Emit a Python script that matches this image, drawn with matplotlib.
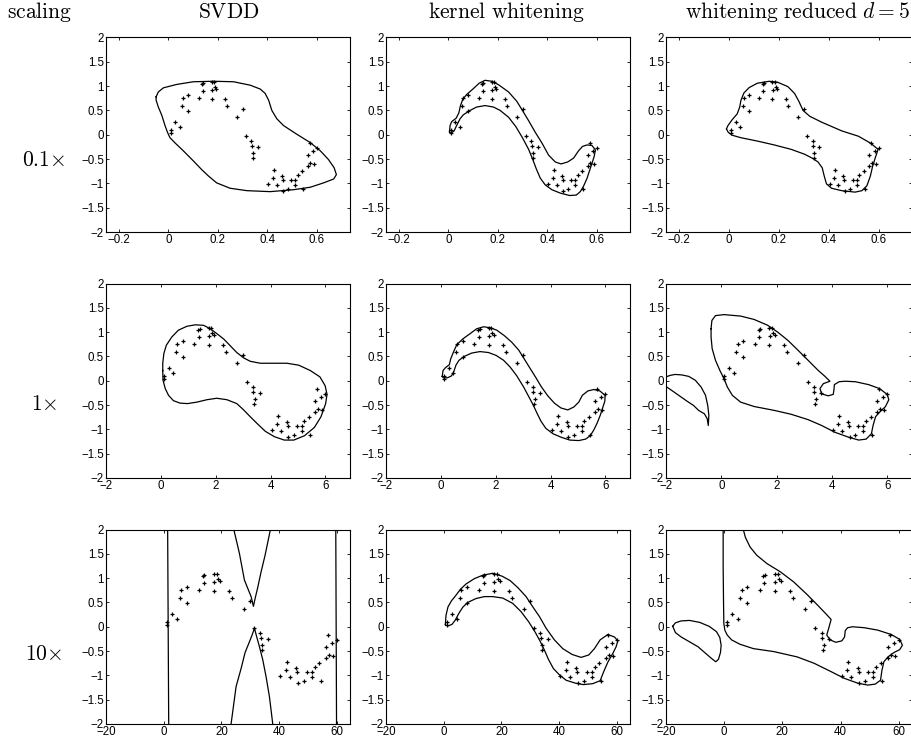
import numpy as np
import matplotlib
matplotlib.use("Agg")
import matplotlib.pyplot as plt

plt.rcParams['mathtext.fontset'] = 'cm'
plt.rcParams['font.family'] = ['Liberation Sans', 'DejaVu Sans']

# ---------------- data (x in unscaled units, multiplied by the row scaling) -------------
scalings = [0.1, 1, 10]
row_labels = [r'$0.1{\times}$', r'$1{\times}$', r'$10{\times}$']
col_titles = [r'$\mathrm{SVDD}$', r'$\mathrm{kernel\ whitening}$',
              r'$\mathrm{whitening\ reduced}\ d=5$']
corner_title = r'$\mathrm{scaling}$'

xlims = [(-0.2526, 0.732), (-2.0, 6.88), (-20.0, 64.4)]
xticks = [[-0.2, 0, 0.2, 0.4, 0.6], [-2, 0, 2, 4, 6], [-20, 0, 20, 40, 60]]
xticklabels = [['-0.2', '0', '0.2', '0.4', '0.6'], ['-2', '0', '2', '4', '6'],
               ['-20', '0', '20', '40', '60']]
yticks = [-2, -1.5, -1, -0.5, 0, 0.5, 1, 1.5, 2]
yticklabels = ['-2', '-1.5', '-1', '-0.5', '0', '0.5', '1', '1.5', '2']

pts_x = [0.10, 0.10, 0.28, 0.46, 0.55, 0.60, 0.80, 0.80, 1.22, 1.35, 1.41, 1.38,
         1.74, 1.76, 1.74, 1.84, 1.87, 1.94, 2.27, 2.38, 2.78, 3.00, 3.13, 3.35,
         3.37, 3.60, 3.42, 3.40, 4.04, 4.27, 4.23, 4.37, 4.59, 4.63, 4.65, 4.96,
         4.85, 5.13, 5.13, 5.23, 5.40, 5.44, 5.63, 5.63, 5.71, 5.74, 5.84, 5.88, 6.00]
pts_y = [0.09, 0.03, 0.26, 0.15, 0.60, 0.76, 0.82, 0.49, 0.76, 1.05, 1.07, 0.89,
         0.74, 0.93, 1.09, 1.08, 0.99, 0.94, 0.74, 0.60, 0.37, 0.52, -0.03, -0.12,
         -0.23, -0.25, -0.37, -0.47, -1.02, -0.72, -0.88, -1.03, -0.84, -0.94, -1.16, -0.94,
         -1.11, -0.94, -1.04, -0.82, -0.75, -1.11, -0.65, -0.42, -0.16, -0.59, -0.34, -0.60, -0.28]

# contour curves, (x, y) pairs in unscaled x units
svdd_01 = [(-0.50, 0.78), (-0.41, 0.88), (-0.205, 0.965), (0.335, 1.035), (1.01, 1.09),
           (1.82, 1.10), (2.63, 1.09), (3.30, 1.02), (3.71, 0.94), (3.91, 0.85), (4.05, 0.71),
           (4.18, 0.50), (4.38, 0.33), (4.65, 0.19), (5.19, 0.01), (5.73, -0.16), (6.14, -0.33),
           (6.47, -0.51), (6.70, -0.68), (6.79, -0.82), (6.68, -0.91), (6.27, -0.99),
           (5.73, -1.08), (5.06, -1.13), (4.11, -1.17), (3.17, -1.15), (2.49, -1.10),
           (1.95, -0.99), (1.62, -0.85), (1.35, -0.72), (1.01, -0.54), (0.60, -0.33),
           (0.27, -0.17), (0.06, -0.06), (-0.04, 0.05), (-0.14, 0.19), (-0.27, 0.40),
           (-0.41, 0.57), (-0.50, 0.71)]
kw_01 = [(0.04, 0.06), (0.065, 0.19), (0.13, 0.27), (0.31, 0.34), (0.42, 0.45), (0.48, 0.59),
         (0.58, 0.73), (0.74, 0.83), (1.01, 0.95), (1.24, 1.06), (1.48, 1.12), (1.75, 1.10),
         (2.02, 1.03), (2.43, 0.88), (2.76, 0.69), (2.99, 0.50), (3.24, 0.29), (3.51, 0.05),
         (3.78, -0.17), (4.05, -0.42), (4.32, -0.56), (4.55, -0.60), (4.82, -0.56),
         (5.06, -0.48), (5.26, -0.33), (5.42, -0.24), (5.60, -0.21), (5.80, -0.22),
         (5.94, -0.31), (5.89, -0.45), (5.80, -0.59), (5.71, -0.73), (5.60, -0.90),
         (5.46, -1.06), (5.33, -1.17), (5.17, -1.24), (4.90, -1.25), (4.52, -1.20),
         (4.18, -1.13), (3.91, -1.03), (3.71, -0.89), (3.55, -0.70), (3.41, -0.51),
         (3.24, -0.30), (2.99, -0.06), (2.72, 0.17), (2.43, 0.36), (2.09, 0.50), (1.82, 0.57),
         (1.48, 0.60), (1.14, 0.57), (0.87, 0.50), (0.60, 0.41), (0.47, 0.33), (0.33, 0.19),
         (0.23, 0.08), (0.09, 0.03)]
wr_01 = [(-0.10, 0.12), (-0.04, 0.19), (0.13, 0.31), (0.33, 0.43), (0.43, 0.57), (0.48, 0.71),
         (0.60, 0.86), (0.81, 0.97), (1.14, 1.06), (1.62, 1.10), (1.95, 1.08), (2.36, 0.99),
         (2.63, 0.85), (2.80, 0.69), (2.97, 0.50), (3.24, 0.38), (3.71, 0.26), (4.52, 0.08),
         (5.19, -0.03), (5.67, -0.17), (5.98, -0.30), (5.87, -0.47), (5.76, -0.65),
         (5.67, -0.85), (5.53, -1.05), (5.33, -1.15), (5.06, -1.18), (4.52, -1.15),
         (4.11, -1.10), (3.91, -1.01), (3.82, -0.85), (3.74, -0.68), (3.57, -0.56),
         (3.37, -0.49), (3.03, -0.40), (2.49, -0.30), (1.82, -0.21), (1.14, -0.13),
         (0.47, -0.06), (0.13, -0.01), (-0.03, 0.05)]
svdd_1 = [(0.07, 0.21), (0.07, 0.36), (0.11, 0.56), (0.20, 0.73), (0.40, 0.90), (0.64, 1.04),
          (0.95, 1.12), (1.25, 1.15), (1.56, 1.14), (1.80, 1.07), (2.04, 0.97), (2.29, 0.86),
          (2.53, 0.72), (2.77, 0.58), (3.02, 0.47), (3.26, 0.40), (3.63, 0.36), (4.11, 0.36),
          (4.60, 0.36), (5.03, 0.32), (5.45, 0.21), (5.80, 0.08), (5.99, -0.10), (6.06, -0.28),
          (6.01, -0.47), (5.84, -0.74), (5.60, -0.96), (5.24, -1.13), (4.85, -1.22),
          (4.50, -1.22), (4.14, -1.15), (3.81, -1.04), (3.53, -0.89), (3.26, -0.74),
          (3.02, -0.60), (2.77, -0.47), (2.41, -0.39), (2.04, -0.36), (1.68, -0.39),
          (1.31, -0.44), (0.97, -0.47), (0.70, -0.46), (0.46, -0.41), (0.28, -0.30),
          (0.16, -0.16), (0.08, 0.01)]
kw_1 = [(0.05, 0.09), (0.08, 0.21), (0.17, 0.27), (0.31, 0.33), (0.36, 0.45), (0.46, 0.59),
        (0.58, 0.74), (0.80, 0.86), (1.07, 0.97), (1.31, 1.07), (1.56, 1.11), (1.80, 1.09),
        (2.04, 1.04), (2.31, 0.93), (2.59, 0.79), (2.84, 0.63), (3.04, 0.45), (3.26, 0.25),
        (3.47, 0.06), (3.66, -0.12), (3.90, -0.31), (4.14, -0.46), (4.38, -0.56),
        (4.63, -0.60), (4.85, -0.54), (5.03, -0.44), (5.16, -0.30), (5.36, -0.21),
        (5.58, -0.18), (5.80, -0.21), (5.99, -0.30), (5.98, -0.42), (5.90, -0.56),
        (5.82, -0.70), (5.70, -0.87), (5.58, -1.01), (5.45, -1.13), (5.28, -1.20),
        (5.03, -1.23), (4.70, -1.22), (4.38, -1.16), (4.09, -1.09), (3.83, -0.98),
        (3.65, -0.83), (3.51, -0.67), (3.36, -0.49), (3.20, -0.32), (3.02, -0.13),
        (2.77, 0.10), (2.53, 0.28), (2.29, 0.42), (2.02, 0.52), (1.74, 0.58), (1.43, 0.60),
        (1.13, 0.57), (0.85, 0.50), (0.66, 0.42), (0.55, 0.32), (0.48, 0.20), (0.39, 0.10),
        (0.24, 0.06), (0.09, 0.06)]
wr_1_main = [(-0.37, 1.07), (-0.34, 1.24), (-0.21, 1.34), (0.10, 1.36), (0.70, 1.33),
             (1.19, 1.26), (1.68, 1.14), (2.04, 1.00), (2.41, 0.83), (2.77, 0.63), (3.14, 0.42),
             (3.51, 0.21), (3.75, 0.09), (3.93, -0.01), (3.69, -0.06), (3.57, -0.16),
             (3.63, -0.27), (3.87, -0.31), (4.05, -0.28), (4.08, -0.16), (4.09, -0.08),
             (4.26, -0.02), (4.48, -0.01), (4.85, -0.02), (5.33, -0.08), (5.72, -0.16),
             (6.00, -0.28), (6.06, -0.39), (5.94, -0.53), (5.72, -0.65), (5.58, -0.74),
             (5.49, -0.92), (5.43, -1.09), (5.24, -1.20), (4.97, -1.22), (4.60, -1.16),
             (4.11, -1.06), (3.63, -0.92), (3.14, -0.80), (2.53, -0.69), (1.92, -0.61),
             (1.19, -0.53), (0.70, -0.44), (0.40, -0.30), (0.22, -0.13), (0.10, 0.04),
             (-0.05, 0.21), (-0.21, 0.42), (-0.33, 0.66), (-0.37, 0.90)]
wr_1_side = [(-2.10, 0.06), (-1.85, 0.11), (-1.67, 0.13), (-1.43, 0.12), (-1.18, 0.09),
             (-0.94, 0.01), (-0.73, -0.13), (-0.57, -0.30), (-0.49, -0.51), (-0.45, -0.71),
             (-0.47, -0.92), (-0.51, -0.78), (-0.61, -0.68), (-0.82, -0.61), (-1.00, -0.51),
             (-1.24, -0.42), (-1.49, -0.32), (-1.79, -0.20), (-2.10, -0.08)]
svdd_10_left = [(0.135, 2.2), (0.175, -2.2)]
svdd_10_right = [(5.963, 2.2), (5.992, -2.2)]
svdd_10_upper = [(2.40, 2.2), (2.43, 2.0), (2.624, 1.51), (2.798, 0.96), (2.913, 0.79),
                 (3.029, 0.62), (3.110, 0.42), (3.168, 0.58), (3.260, 0.81), (3.376, 1.13),
                 (3.514, 1.47), (3.699, 2.0), (3.73, 2.2)]
svdd_10_lower = [(2.32, -2.2), (2.335, -2.0), (2.509, -1.23), (2.682, -0.86), (2.821, -0.53),
                 (2.971, -0.31), (3.064, -0.17), (3.145, -0.03), (3.225, -0.21), (3.318, -0.41),
                 (3.434, -0.68), (3.549, -1.03), (3.665, -1.44), (3.780, -2.0), (3.80, -2.2)]
kw_10 = [(0.058, 0.05), (0.081, 0.24), (0.150, 0.41), (0.266, 0.53), (0.428, 0.65),
         (0.578, 0.77), (0.775, 0.88), (1.064, 0.99), (1.353, 1.06), (1.699, 1.10),
         (2.023, 1.04), (2.301, 0.95), (2.578, 0.80), (2.855, 0.62), (3.087, 0.41),
         (3.318, 0.21), (3.549, -0.03), (3.838, -0.27), (4.127, -0.45), (4.451, -0.57),
         (4.763, -0.63), (5.029, -0.58), (5.225, -0.45), (5.422, -0.27), (5.688, -0.16),
         (5.919, -0.21), (6.035, -0.29), (5.977, -0.41), (5.861, -0.55), (5.688, -0.73),
         (5.549, -0.92), (5.422, -1.11), (5.168, -1.17), (4.844, -1.19), (4.566, -1.16),
         (4.243, -1.10), (4.012, -0.99), (3.803, -0.86), (3.630, -0.67), (3.491, -0.48),
         (3.353, -0.31), (3.179, -0.12), (2.948, 0.10), (2.682, 0.31), (2.393, 0.48),
         (2.046, 0.59), (1.699, 0.62), (1.410, 0.62), (1.121, 0.58), (0.832, 0.50),
         (0.659, 0.40), (0.520, 0.27), (0.405, 0.14), (0.289, 0.05), (0.173, 0.02),
         (0.058, 0.03)]
wr_10_main = [(-0.035, 2.2), (-0.035, 1.23), (-0.023, 0.55), (-0.012, 0.07), (0.023, -0.07),
              (0.104, -0.17), (0.254, -0.27), (0.543, -0.36), (1.006, -0.45), (1.699, -0.51),
              (2.509, -0.62), (3.087, -0.75), (3.665, -0.92), (4.127, -1.06), (4.590, -1.16),
              (4.936, -1.20), (5.191, -1.18), (5.376, -1.10), (5.422, -0.90), (5.491, -0.72),
              (5.630, -0.62), (5.838, -0.53), (6.035, -0.47), (6.127, -0.38), (6.035, -0.26),
              (5.746, -0.16), (5.283, -0.07), (4.821, -0.02), (4.416, 0.00), (4.243, -0.02),
              (4.162, -0.08), (4.139, -0.21), (4.046, -0.29), (3.838, -0.32), (3.642, -0.27),
              (3.526, -0.17), (3.595, -0.03), (3.676, 0.15), (3.491, 0.27), (3.202, 0.45),
              (2.855, 0.66), (2.393, 0.92), (1.931, 1.13), (1.468, 1.30), (1.121, 1.47),
              (0.890, 1.64), (0.728, 1.84), (0.57, 2.2)]
wr_10_side = [(-1.769, 0.01), (-1.676, 0.08), (-1.480, 0.12), (-1.191, 0.13), (-0.844, 0.09),
              (-0.520, 0.01), (-0.266, -0.10), (-0.150, -0.22), (-0.104, -0.38), (-0.127, -0.53),
              (-0.197, -0.67), (-0.289, -0.72), (-0.439, -0.65), (-0.671, -0.53),
              (-0.902, -0.41), (-1.191, -0.31), (-1.480, -0.21), (-1.676, -0.12)]

# (curve, closed) per panel [row][col]
curves = [
    [[(svdd_01, True)], [(kw_01, True)], [(wr_01, True)]],
    [[(svdd_1, True)], [(kw_1, True)], [(wr_1_main, True), (wr_1_side, False)]],
    [[(svdd_10_left, False), (svdd_10_right, False), (svdd_10_upper, False),
      (svdd_10_lower, False)],
     [(kw_10, True)],
     [(wr_10_main, False), (wr_10_side, True)]],
]

# ---------------- layout ----------------
W, H = 911, 744
fig = plt.figure(figsize=(W / 100, H / 100), dpi=100)
col_left = [106, 386, 666]
row_top = [37.5, 283.5, 529.5]
aw, ah = 243.5, 194.5

for r in range(3):
    s = scalings[r]
    for c in range(3):
        w = aw if c < 2 else 245.5
        ax = fig.add_axes([col_left[c] / W, 1 - (row_top[r] + ah) / H, w / W, ah / H])
        for crv, closed in curves[r][c]:
            xs = [p[0] * s for p in crv]
            ys = [p[1] for p in crv]
            if closed:
                xs.append(xs[0]); ys.append(ys[0])
            ax.plot(xs, ys, color='black', lw=0.9, solid_joinstyle='round')
        ax.plot(np.array(pts_x) * s, pts_y, linestyle='none', marker='+',
                color='black', markersize=3.5, markeredgewidth=0.9)
        ax.set_xlim(*xlims[r])
        ax.set_ylim(-2, 2)
        ax.set_xticks(xticks[r])
        ax.set_xticklabels([t.replace('-', '\u2212') for t in xticklabels[r]])
        ax.set_yticks(yticks)
        ax.set_yticklabels([t.replace('-', '\u2212') for t in yticklabels])
        ax.tick_params(direction='in', length=2.5, width=0.6, labelsize=8.3,
                       top=True, right=True, pad=1.5)
        for sp in ax.spines.values():
            sp.set_linewidth(0.8)
        if c == 2:
            ax.spines['right'].set_visible(False)

# titles
fs = 15.5
fig.text(40 / W, 1 - 12 / H, corner_title, ha='center', va='center', fontsize=fs)
fig.text(229 / W, 1 - 12 / H, col_titles[0], ha='center', va='center', fontsize=fs)
fig.text(506 / W, 1 - 12 / H, col_titles[1], ha='center', va='center', fontsize=fs)
fig.text(910 / W, 1 - 12 / H, col_titles[2], ha='right', va='center', fontsize=fs)
row_y = [160, 405, 655]
for r in range(3):
    fig.text(44 / W, 1 - row_y[r] / H, row_labels[r], ha='center', va='center', fontsize=fs)

fig.savefig('out.png', dpi=100)
